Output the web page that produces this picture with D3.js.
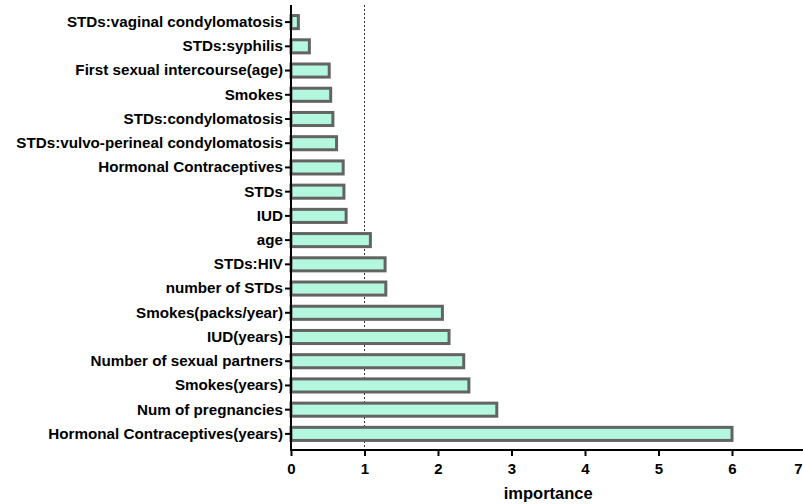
<!DOCTYPE html>
<html>
<head>
<meta charset="utf-8">
<script src="https://cdn.jsdelivr.net/npm/d3@7"></script>
<style>
  html, body { margin: 0; padding: 0; background: #fff; }
  svg { display: block; }
  text { font-family: "Liberation Sans", Arial, sans-serif; font-weight: bold; fill: #000; }
</style>
</head>
<body>
<svg id="chart" width="803" height="504"></svg>
<script>
// Feature importance, top to bottom
const features = [
  "STDs:vaginal condylomatosis",
  "STDs:syphilis",
  "First sexual intercourse(age)",
  "Smokes",
  "STDs:condylomatosis",
  "STDs:vulvo-perineal condylomatosis",
  "Hormonal Contraceptives",
  "STDs",
  "IUD",
  "age",
  "STDs:HIV",
  "number of STDs",
  "Smokes(packs/year)",
  "IUD(years)",
  "Number of sexual partners",
  "Smokes(years)",
  "Num of pregnancies",
  "Hormonal Contraceptives(years)"
];
const importance = [
  0.10, 0.25, 0.52, 0.54, 0.57, 0.62, 0.71, 0.72, 0.75,
  1.08, 1.28, 1.29, 2.06, 2.15, 2.35, 2.42, 2.80, 6.00
];
const xTicks = [0, 1, 2, 3, 4, 5, 6, 7];
const referenceValue = 1;

const svg = d3.select("#chart");
const W = 803;
const x0 = 291, x1 = 805.5, yTop = 5, yAxis = 450;

const x = d3.scaleLinear().domain([0, 7]).range([x0, x1]);
const y = d3.scaleBand().domain(features).range([10, 446]).paddingInner(0.46).paddingOuter(0.23);

// dashed reference line at importance = 1
svg.append("line")
  .attr("x1", x(referenceValue)).attr("x2", x(referenceValue))
  .attr("y1", yTop).attr("y2", yAxis)
  .attr("stroke", "#333").attr("stroke-width", 1)
  .attr("stroke-dasharray", "2,2");

// bars
svg.append("g").selectAll("rect")
  .data(features)
  .join("rect")
  .attr("x", x(0))
  .attr("y", d => y(d))
  .attr("width", (d, i) => x(importance[i]) - x(0))
  .attr("height", y.bandwidth())
  .attr("fill", "#b3f7df")
  .attr("stroke", "#636363")
  .attr("stroke-width", 3);

// y axis
const yAx = svg.append("g")
  .attr("transform", `translate(${x0},0)`)
  .call(d3.axisLeft(y).tickSize(6).tickPadding(2));
yAx.select(".domain").remove();
yAx.selectAll(".tick line").attr("stroke", "#000").attr("stroke-width", 2);
yAx.selectAll(".tick text").style("font-size", "15.2px").attr("fill", "#000");
svg.append("line")
  .attr("x1", x0).attr("x2", x0)
  .attr("y1", yTop).attr("y2", yAxis + 1)
  .attr("stroke", "#000").attr("stroke-width", 2);

// x axis
const xAx = svg.append("g")
  .attr("transform", `translate(0,${yAxis})`)
  .call(d3.axisBottom(x).tickValues(xTicks).tickFormat(d3.format("d")).tickSize(6).tickPadding(7));
xAx.select(".domain").remove();
xAx.selectAll(".tick line").attr("stroke", "#000").attr("stroke-width", 2);
xAx.selectAll(".tick text").style("font-size", "15px").attr("fill", "#000");
// the last tick label sits at the right edge; keep it inside the page
xAx.selectAll(".tick")
  .filter(d => x(d) + 5 > W)
  .select("text")
  .attr("text-anchor", "end")
  .attr("x", W - 1 - x(7));
svg.append("line")
  .attr("x1", x0 - 1).attr("x2", W)
  .attr("y1", yAxis).attr("y2", yAxis)
  .attr("stroke", "#000").attr("stroke-width", 2);

// axis title
svg.append("text")
  .attr("x", (x0 + x1) / 2)
  .attr("y", 499)
  .attr("text-anchor", "middle")
  .style("font-size", "16.5px")
  .text("importance");
</script>
</body>
</html>
